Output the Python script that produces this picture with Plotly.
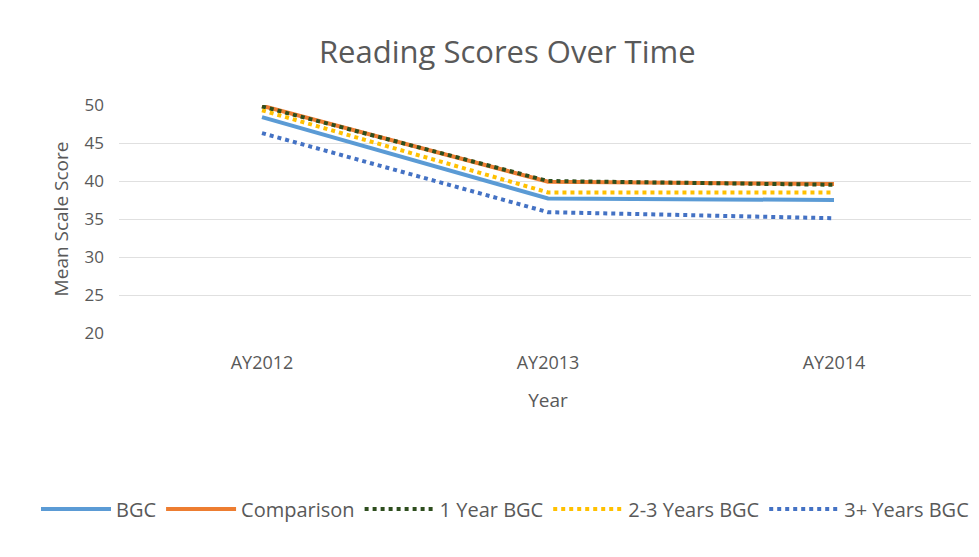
import plotly.graph_objects as go

years = ["AY2012", "AY2013", "AY2014"]
bgc = [48.4, 37.7, 37.5]
comparison = [49.9, 39.9, 39.6]
one_year = [49.8, 40.0, 39.5]
two_three_years = [49.3, 38.5, 38.5]
three_plus_years = [46.3, 35.9, 35.1]
y_ticks = [20, 25, 30, 35, 40, 45, 50]

FONT = "Open Sans"
GRAY = "#595959"

series = [
    ("BGC", bgc, "#5B9BD5", "solid", 4),
    ("Comparison", comparison, "#ED7D31", "solid", 4),
    ("1 Year BGC", one_year, "#2E4E1E", "dot", 4),
    ("2-3 Years BGC", two_three_years, "#FFC000", "dot", 4),
    ("3+ Years BGC", three_plus_years, "#4472C4", "dot", 4),
]

fig = go.Figure()
for name, vals, color, dash, w in series:
    fig.add_trace(go.Scatter(
        x=years, y=vals, name=name, mode="lines",
        line=dict(color=color, dash=dash, width=w),
    ))

L, T, B = 111, 97, 232
fig.update_layout(
    width=979, height=557,
    paper_bgcolor="white", plot_bgcolor="white",
    font=dict(family=FONT, color=GRAY, size=16),
    title=dict(text="Reading Scores Over Time", x=0.51, xanchor="center",
               y=1 - 44 / 557, yanchor="middle",
               font=dict(size=31, color=GRAY, family=FONT)),
    margin=dict(l=L, r=10, t=T, b=B),
    showlegend=True,
    legend=dict(orientation="h", x=(28 - L) / 858, xanchor="left",
                y=(325 - 501) / 228, yanchor="middle", itemwidth=70,
                font=dict(size=20, color=GRAY, family=FONT)),
    xaxis=dict(
        type="category", range=[-0.5, 2.5],
        showgrid=False, showline=False, zeroline=False,
        ticks="", tickfont=dict(size=18, color=GRAY), ticklabelstandoff=17,
        title=dict(text="Year", font=dict(size=19, color=GRAY), standoff=20),
    ),
    yaxis=dict(
        range=[20, 50], tickvals=y_ticks,
        showgrid=True, gridcolor="#E0E0E0", gridwidth=1,
        zeroline=False, showline=False, ticks="",
        tickfont=dict(size=17, color=GRAY), ticklabelstandoff=14,
        title=dict(text="Mean Scale Score", font=dict(size=19, color=GRAY), standoff=10),
    ),
)

fig.write_html("out.html")
